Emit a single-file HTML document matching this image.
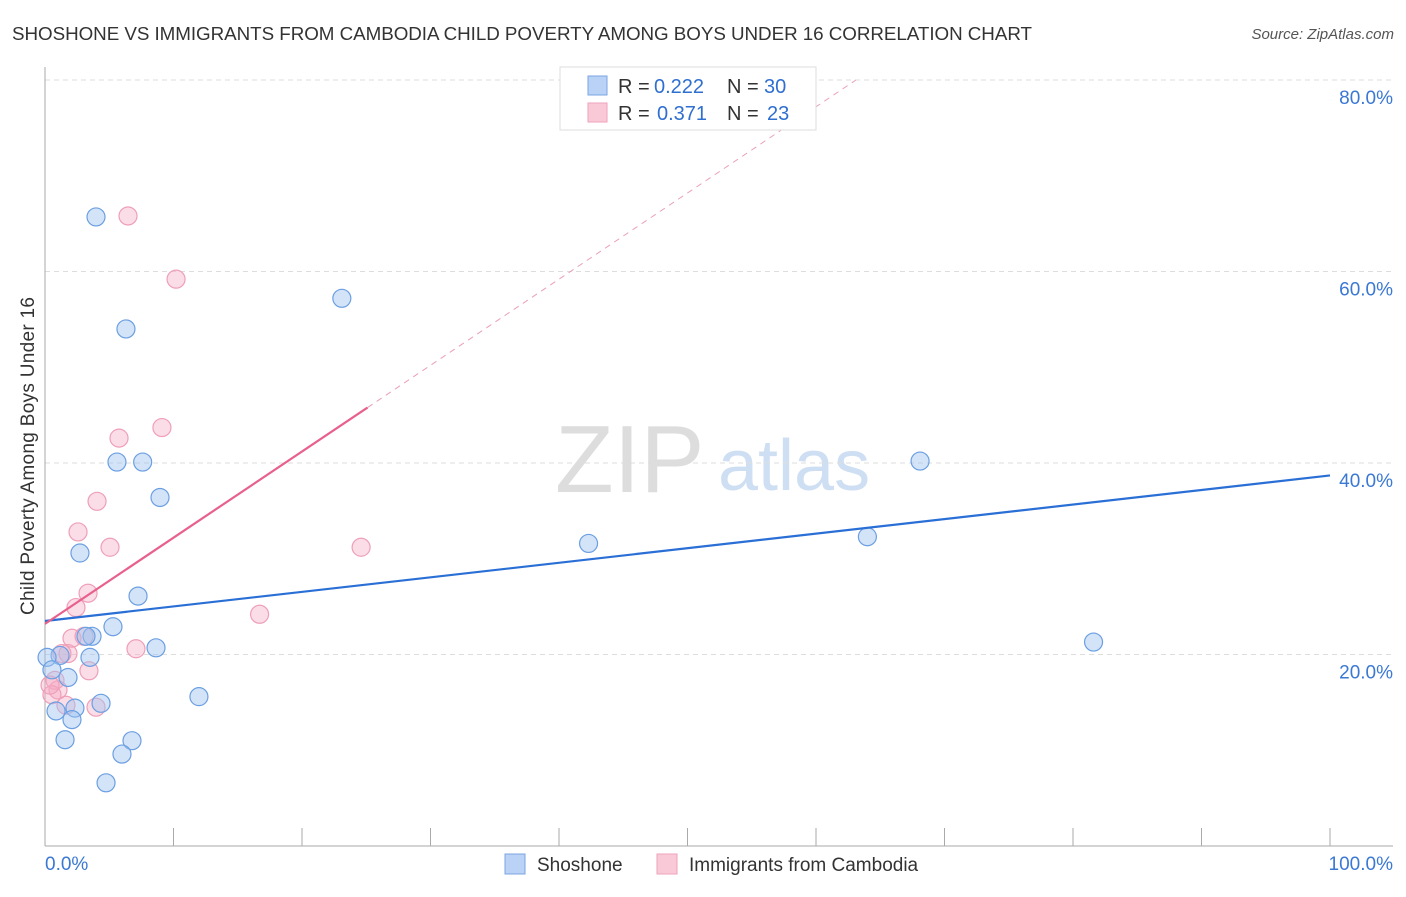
<!DOCTYPE html>
<html><head><meta charset="utf-8"><style>
body{margin:0;background:#fff;font-family:"Liberation Sans",sans-serif}
svg text{font-family:"Liberation Sans",sans-serif}
</style></head><body>
<svg id="c" width="1406" height="892">
<text x="12" y="40" font-size="18.8" fill="#333" textLength="1020">SHOSHONE VS IMMIGRANTS FROM CAMBODIA CHILD POVERTY AMONG BOYS UNDER 16 CORRELATION CHART</text>
<text x="1394" y="39" font-size="15" fill="#555" font-style="italic" text-anchor="end">Source: ZipAtlas.com</text>
<text x="-456" y="34" font-size="19" fill="#333" transform="rotate(-90)" text-anchor="middle" textLength="318">Child Poverty Among Boys Under 16</text>
<text x="555" y="492" font-size="96" fill="#ddd" font-family="Liberation Serif">ZIP</text>
<text x="718" y="490" font-size="72" fill="#cfdff3">atlas</text>
<g id="grid"></g><g id="marks"></g>
<g>
<rect x="560" y="67" width="256" height="63" fill="#fff" stroke="#ddd"/>
<rect x="588" y="76" width="19" height="19" fill="#b9d2f5" stroke="#7aa6e2"/>
<rect x="588" y="103" width="19" height="19" fill="#f9c9d8" stroke="#eea2ba"/>
<text x="618" y="93" font-size="20" fill="#333">R =</text>
<text x="654" y="93" font-size="20" fill="#2f6fd0">0.222</text>
<text x="727" y="93" font-size="20" fill="#333">N =</text>
<text x="764" y="93" font-size="20" fill="#2f6fd0">30</text>
<text x="618" y="120" font-size="20" fill="#333">R =</text>
<text x="657" y="120" font-size="20" fill="#2f6fd0">0.371</text>
<text x="727" y="120" font-size="20" fill="#333">N =</text>
<text x="767" y="120" font-size="20" fill="#2f6fd0">23</text>
</g>
<g>
<rect x="505" y="854" width="20" height="20" fill="#b9d2f5" stroke="#7aa6e2"/>
<text x="537" y="871" font-size="19" fill="#333">Shoshone</text>
<rect x="657" y="854" width="20" height="20" fill="#f9c9d8" stroke="#eea2ba"/>
<text x="689" y="871" font-size="19" fill="#333">Immigrants from Cambodia</text>
</g>
<text x="45" y="870" font-size="19" fill="#3a78d4">0.0%</text>
<text x="1393" y="870" font-size="19" fill="#3a78d4" text-anchor="end">100.0%</text>
</svg>
<script>
const yTicks=[20,40,60,80];
const xTickVals=[0,10,20,30,40,50,60,70,80,90,100];
const blueX=[3.97,6.30,23.1,5.6,7.6,8.95,2.72,7.24,5.29,3.66,3.19,8.64,3.50,1.17,0.16,0.54,1.79,4.36,0.86,2.33,2.10,1.56,6.77,5.99,4.75,11.98,42.3,64.0,68.1,81.6];
const blueY=[65.7,54.0,57.2,40.1,40.1,36.4,30.6,26.1,22.9,21.9,21.9,20.7,19.7,19.9,19.7,18.4,17.6,14.9,14.1,14.4,13.2,11.1,11.0,9.6,6.6,15.6,31.6,32.3,40.2,21.3];
const pinkX=[6.46,10.2,9.1,5.76,4.05,2.57,5.06,24.6,3.35,2.41,16.7,2.10,3.04,1.79,1.32,7.08,3.42,0.78,1.01,0.54,1.63,3.97,0.39];
const pinkY=[65.8,59.2,43.7,42.6,36.0,32.8,31.2,31.2,26.4,24.9,24.2,21.7,21.9,20.1,20.1,20.6,18.3,17.3,16.3,15.8,14.7,14.5,16.8];
const blueLine=[23.5,38.7];
const pinkLine=[23.2,0.9];
const NS="http://www.w3.org/2000/svg";
const X=v=>45+v*12.85, Y=v=>846-v*9.575;
function mk(t,a,p){const e=document.createElementNS(NS,t);for(const k in a)e.setAttribute(k,a[k]);p.appendChild(e);return e;}
const g=document.getElementById('grid'),m=document.getElementById('marks');
for(const t of yTicks){
 const l=mk('line',{x1:45,x2:1393,y1:Y(t),y2:Y(t),stroke:'#ddd','stroke-dasharray':'5,4'},g);
 
 
 const tx=mk('text',{x:1393,y:Y(t)+24,'font-size':19,fill:'#3a78d4','text-anchor':'end'},g);
 tx.textContent=t.toFixed(1)+'%';
 
 
}
const ax=mk('line',{x1:45,x2:45,y1:67,y2:846,stroke:'#aaa'},g);


const bx=mk('line',{x1:45,x2:1393,y1:846,y2:846,stroke:'#aaa'},g);


for(const t of xTickVals){
 const l=mk('line',{x1:X(t),x2:X(t),y1:828,y2:846,stroke:'#aaa'},g);
 
 
}
function pts(xs,ys,fill,stroke,name){
 xs.forEach((v,i)=>{
  const c=mk('circle',{cx:X(v),cy:Y(ys[i]),r:9,fill:fill,stroke:stroke,'stroke-width':1.2},m);
  
  
 });
}
pts(pinkX,pinkY,'rgba(246,170,196,0.4)','#ef9fb8','cambodia-point');
pts(blueX,blueY,'rgba(160,195,240,0.45)','#6b9fe2','shoshone-point');
const bl=mk('line',{x1:X(0),y1:Y(blueLine[0]),x2:X(100),y2:Y(blueLine[1]),stroke:'#2a6fd6','stroke-width':2.2},m);


const pEnd=25.1, pMax=(80-pinkLine[0])/pinkLine[1];
const pl=mk('line',{x1:X(0),y1:Y(pinkLine[0]),x2:X(pEnd),y2:Y(pinkLine[0]+pinkLine[1]*pEnd),stroke:'#e8608c','stroke-width':2.2},m);


const pd=mk('line',{x1:X(pEnd),y1:Y(pinkLine[0]+pinkLine[1]*pEnd),x2:X(pMax),y2:Y(80),stroke:'#eaa0b8','stroke-width':1,'stroke-dasharray':'6,5'},m);


</script>
</body></html>
